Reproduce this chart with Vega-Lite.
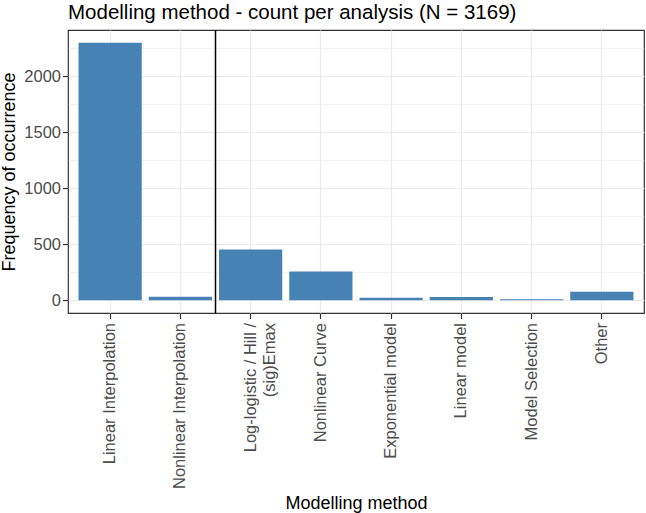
{
  "$schema": "https://vega.github.io/schema/vega-lite/v6.json",
  "width": 576,
  "height": 283,
  "autosize": {"type": "none"},
  "padding": {"left": 68, "top": 30, "right": 2, "bottom": 200},
  "title": {
    "text": "Modelling method - count per analysis (N = 3169)",
    "anchor": "start",
    "frame": "group",
    "offset": 6
  },
  "config": {
    "background": "white",
    "font": "Liberation Sans",
    "view": {"stroke": "#333333", "strokeWidth": 1.2},
    "title": {"font": "Liberation Sans", "fontSize": 20.5, "fontWeight": "normal", "color": "black"},
    "axis": {
      "domain": false,
      "labelFont": "Liberation Sans",
      "labelFontSize": 16.5,
      "labelColor": "#4D4D4D",
      "titleFont": "Liberation Sans",
      "titleFontSize": 18,
      "titleFontWeight": "normal",
      "titleColor": "black",
      "tickColor": "#333333",
      "tickWidth": 1.2,
      "tickSize": 5.5,
      "gridColor": "#EBEBEB",
      "gridWidth": 1.2
    }
  },
  "data": {
    "values": [
      {"method": "Linear Interpolation", "count": 2300},
      {"method": "Nonlinear Interpolation", "count": 31},
      {"method": "Log-logistic / Hill / (sig)Emax", "count": 452},
      {"method": "Nonlinear Curve", "count": 255},
      {"method": "Exponential model", "count": 21},
      {"method": "Linear model", "count": 27},
      {"method": "Model Selection", "count": 8},
      {"method": "Other", "count": 75}
    ]
  },
  "layer": [
    {
      "mark": {"type": "bar", "color": "#4682B4"},
      "encoding": {
        "x": {
          "field": "method",
          "type": "nominal",
          "title": "Modelling method",
          "scale": {
            "domain": ["Linear Interpolation", "Nonlinear Interpolation", "Log-logistic / Hill / (sig)Emax", "Nonlinear Curve", "Exponential model", "Linear model", "Model Selection", "Other"],
            "paddingInner": 0.1,
            "paddingOuter": 0.15
          },
          "axis": {
            "grid": true,
            "labelAngle": -90,
            "labelPadding": 4,
            "titlePadding": 6,
            "bandPosition": 0.5,
            "labelLineHeight": 19,
            "labelExpr": "datum.value == 'Log-logistic / Hill / (sig)Emax' ? ['Log-logistic / Hill /', '(sig)Emax'] : datum.label"
          }
        },
        "y": {
          "field": "count",
          "type": "quantitative",
          "title": "Frequency of occurrence",
          "scale": {"domain": [-115, 2415], "nice": false, "zero": false},
          "axis": {
            "values": [0, 250, 500, 750, 1000, 1250, 1500, 1750, 2000, 2250],
            "format": "d",
            "labelExpr": "datum.value % 500 == 0 ? datum.label : ''",
            "labelPadding": 2,
            "titlePadding": 5,
            "tickOpacity": {"condition": {"test": "datum.value % 500 != 0", "value": 0}, "value": 1},
            "gridWidth": {"condition": {"test": "datum.value % 500 != 0", "value": 0.6}, "value": 1.2}
          }
        }
      }
    },
    {
      "data": {"values": [{"method": "Log-logistic / Hill / (sig)Emax"}]},
      "mark": {"type": "rule", "color": "black", "strokeWidth": 1.5},
      "encoding": {
        "x": {"field": "method", "type": "nominal", "bandPosition": -0.0556}
      }
    }
  ]
}
